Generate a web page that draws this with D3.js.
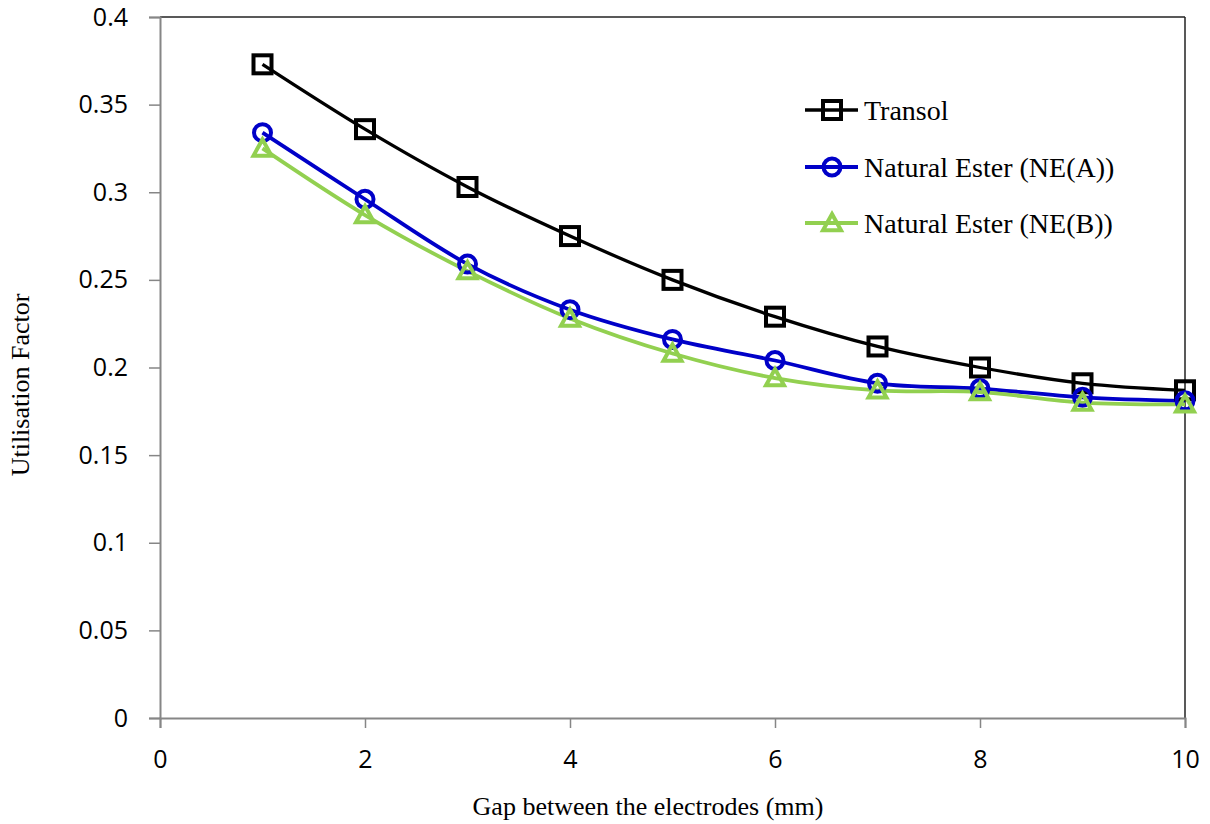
<!DOCTYPE html>
<html>
<head>
<meta charset="utf-8">
<script src="https://cdn.jsdelivr.net/npm/d3@7"></script>
<style>
  body { margin: 0; background: #fff; }
  svg { display: block; }
</style>
</head>
<body>
<svg id="chart" width="1210" height="824"></svg>
<script>
// values
var gaps = [1, 2, 3, 4, 5, 6, 7, 8, 9, 10];
var transol = [0.373, 0.336, 0.303, 0.275, 0.250, 0.229, 0.212, 0.200, 0.191, 0.187];
var neA = [0.334, 0.296, 0.259, 0.233, 0.216, 0.204, 0.191, 0.188, 0.183, 0.181];
var neB = [0.325, 0.287, 0.255, 0.228, 0.208, 0.194, 0.187, 0.186, 0.180, 0.179];
var seriesNames = ["Transol", "Natural Ester (NE(A))", "Natural Ester (NE(B))"];
var xTicks = [0, 2, 4, 6, 8, 10];
var yTicks = [0, 0.05, 0.1, 0.15, 0.2, 0.25, 0.3, 0.35, 0.4];

var series = [
  {name: seriesNames[0], values: transol, color: "#000000", width: 3.3, shape: "square"},
  {name: seriesNames[1], values: neA, color: "#0000c8", width: 3.8, shape: "circle"},
  {name: seriesNames[2], values: neB, color: "#92d050", width: 3.8, shape: "triangle"}
];

var svg = d3.select("#chart");
var plotLeft = 160, plotRight = 1185, plotTop = 17, plotBottom = 718;

var xScale = d3.scaleLinear().domain([0, 10]).range([plotLeft, plotRight]);
var yScale = d3.scaleLinear().domain([0, 0.4]).range([plotBottom, plotTop]);

// plot frame: top and right dark
svg.append("line").attr("x1", plotLeft).attr("x2", plotRight).attr("y1", plotTop).attr("y2", plotTop)
  .attr("stroke", "#222").attr("stroke-width", 1.5);
svg.append("line").attr("x1", plotRight).attr("x2", plotRight).attr("y1", plotTop).attr("y2", plotBottom)
  .attr("stroke", "#222").attr("stroke-width", 1.5);

var tickFont = "'Open Sans', 'Noto Sans', sans-serif";

var xAxisG = svg.append("g")
  .attr("transform", "translate(0," + plotBottom + ")")
  .call(d3.axisBottom(xScale).tickValues(xTicks).tickSize(10).tickPadding(22).tickFormat(d3.format("d")));
var yAxisG = svg.append("g")
  .attr("transform", "translate(" + plotLeft + ",0)")
  .call(d3.axisLeft(yScale).tickValues(yTicks).tickSize(11).tickPadding(21).tickFormat(function(d) { return d === 0 ? "0" : String(+d.toFixed(2)); }));

[xAxisG, yAxisG].forEach(function(g) {
  g.select(".domain").attr("stroke", "#868686").attr("stroke-width", 2);
  g.selectAll(".tick line").attr("stroke", "#868686").attr("stroke-width", 1.5);
  g.selectAll(".tick text")
    .style("font-family", tickFont)
    .style("font-size", "25px")
    .attr("fill", "#000");
});

var line = d3.line()
  .x(function(d, i) { return xScale(gaps[i]); })
  .y(function(d) { return yScale(d); })
  .curve(d3.curveCardinal.tension(0));

function marker(g, shape, color, cx, cy) {
  if (shape === "square") {
    g.append("rect").attr("x", cx - 9).attr("y", cy - 9).attr("width", 18).attr("height", 18)
      .attr("fill", "none").attr("stroke", color).attr("stroke-width", 4);
  } else if (shape === "circle") {
    g.append("circle").attr("cx", cx).attr("cy", cy).attr("r", 8.5)
      .attr("fill", "none").attr("stroke", color).attr("stroke-width", 4);
  } else {
    var s = 9;
    g.append("path")
      .attr("d", "M" + cx + "," + (cy - s) + "L" + (cx + s) + "," + (cy + s * 0.8) + "L" + (cx - s) + "," + (cy + s * 0.8) + "Z")
      .attr("fill", "none").attr("stroke", color).attr("stroke-width", 4).attr("stroke-linejoin", "miter");
  }
}

series.forEach(function(s) {
  svg.append("path")
    .attr("d", line(s.values))
    .attr("fill", "none")
    .attr("stroke", s.color)
    .attr("stroke-width", s.width);
});
series.forEach(function(s) {
  var g = svg.append("g");
  s.values.forEach(function(v, i) {
    marker(g, s.shape, s.color, xScale(gaps[i]), yScale(v));
  });
});

// legend
var legendY = [110, 167, 223];
series.forEach(function(s, i) {
  var g = svg.append("g");
  g.append("line").attr("x1", 805).attr("x2", 858).attr("y1", legendY[i]).attr("y2", legendY[i])
    .attr("stroke", s.color).attr("stroke-width", s.width);
  marker(g, s.shape, s.color, 832, legendY[i]);
  g.append("text")
    .attr("x", 864).attr("y", legendY[i])
    .attr("dy", "0.34em")
    .style("font-family", "'Liberation Serif', 'Times New Roman', serif")
    .style("font-size", "28px")
    .text(s.name);
});

// axis titles
svg.append("text")
  .attr("x", 648).attr("y", 815)
  .attr("text-anchor", "middle")
  .style("font-family", "'Liberation Serif', 'Times New Roman', serif")
  .style("font-size", "26px")
  .text("Gap between the electrodes (mm)");

svg.append("text")
  .attr("transform", "translate(29,385) rotate(-90)")
  .attr("text-anchor", "middle")
  .style("font-family", "'Liberation Serif', 'Times New Roman', serif")
  .style("font-size", "26px")
  .text("Utilisation Factor");
</script>
</body>
</html>
